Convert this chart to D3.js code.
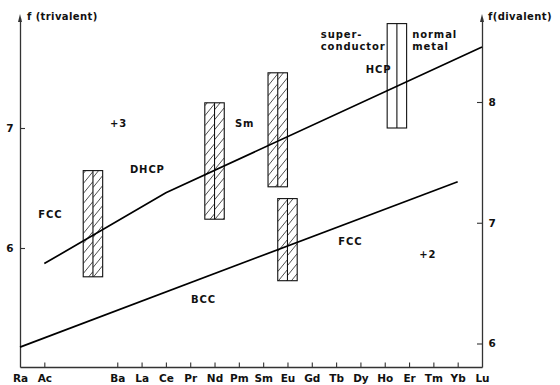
<!DOCTYPE html>
<html>
<head>
<meta charset="utf-8">
<script src="https://cdn.jsdelivr.net/npm/d3@7"></script>
<style>
  html, body { margin: 0; padding: 0; background: #fff; }
  svg text { font-family: "DejaVu Sans", sans-serif; font-size: 10px; font-weight: bold; fill: #111; }
  .lbl { letter-spacing: 0.9px; }
  .ttl { letter-spacing: 0.4px; }
</style>
</head>
<body>
<svg id="chart" width="560" height="385"></svg>
<script>
// Element slots along the horizontal axis (two unnamed slots between Ac and Ba)
const elements = ["Ra", "Ac", "", "", "Ba", "La", "Ce", "Pr", "Nd", "Pm", "Sm",
                  "Eu", "Gd", "Tb", "Dy", "Ho", "Er", "Tm", "Yb", "Lu"];
const trivalentTicks = [6, 7];
const divalentTicks = [6, 7, 8];

// f for the trivalent series (left scale)
const trivalentElements = ["Ac", "Ce", "Lu"];
const trivalentF = [5.87, 6.46, 7.675];

// f for the divalent series (right scale)
const divalentElements = ["Ra", "Yb"];
const divalentF = [5.97, 7.34];

// Transition ranges: slot position, low / high f, which scale, hatched or open
const barSlots = [3, 8, 10.6, 11, 15.5];
const barLow = [5.76, 6.24, 6.51, 6.52, 7.0];
const barHigh = [6.645, 7.21, 7.46, 7.2, 7.87];
const barScale = ["tri", "tri", "tri", "di", "tri"];
const barHatched = [true, true, true, true, false];

// Region annotations
const noteText = ["+3", "Sm", "DHCP", "FCC", "super-", "conductor", "normal", "metal",
                  "HCP", "FCC", "+2", "BCC"];

const svg = d3.select("#chart");
const plotL = 20, plotR = 482, plotT = 18, plotB = 367;

const x = d3.scaleLinear().domain([0, elements.length - 1]).range([plotL, plotR]);
const idx = name => elements.indexOf(name);

// vertical scales, calibrated on their tick marks, then stretched over the frame
const yTri = d3.scaleLinear().domain([6, 7]).range([248, 128]);
yTri.domain([yTri.invert(plotB), yTri.invert(plotT)]).range([plotB, plotT]);
const yDi = d3.scaleLinear().domain([6, 8]).range([343.5, 102]);
yDi.domain([yDi.invert(plotB), yDi.invert(plotT)]).range([plotB, plotT]);

const axisColor = "#333";

// bottom axis with inward ticks
const named = elements.map((e, i) => i).filter(i => elements[i] !== "");
const xAxis = d3.axisBottom(x)
  .tickValues(named)
  .tickFormat(i => elements[i])
  .tickSizeInner(-4.5).tickSizeOuter(0).tickPadding(7.6);
const gx = svg.append("g").attr("transform", `translate(0,${plotB})`).call(xAxis);
gx.selectAll(".tick").filter(i => i === 0 || i === elements.length - 1).select("line").remove();

const yAxisL = d3.axisLeft(yTri).tickValues(trivalentTicks).tickFormat(d3.format("d"))
  .tickSizeInner(-5).tickSizeOuter(0).tickPadding(6.5);
const gl = svg.append("g").attr("transform", `translate(${plotL},0)`).call(yAxisL);

const yAxisR = d3.axisRight(yDi).tickValues(divalentTicks).tickFormat(d3.format("d"))
  .tickSizeInner(-5).tickSizeOuter(0).tickPadding(6.5);
const gr = svg.append("g").attr("transform", `translate(${plotR},0)`).call(yAxisR);

[gx, gl, gr].forEach(g => {
  g.attr("font-family", null).attr("font-size", null);
  g.select(".domain").attr("stroke", axisColor).attr("stroke-width", 1.3);
  g.selectAll(".tick line").attr("stroke", axisColor).attr("stroke-width", 1.1);
  g.selectAll(".tick text").attr("fill", "#111").style("font-size", "10.5px");
});

// small arrow heads on the vertical axes
[plotL, plotR].forEach(ax => {
  svg.append("path")
    .attr("d", `M${ax},${plotT - 4} L${ax - 2},${plotT + 4} L${ax + 2},${plotT + 4} Z`)
    .attr("fill", axisColor);
});

// axis titles
svg.append("text").attr("class", "ttl").attr("x", plotL + 7).attr("y", 20).text("f (trivalent)");
svg.append("text").attr("class", "ttl").attr("x", plotR + 6).attr("y", 20).text("f(divalent)");

// transition ranges
const defs = svg.append("defs");
barSlots.forEach((s, b) => {
  const ys = barScale[b] === "tri" ? yTri : yDi;
  const half = x(s + 0.4) - x(s);
  const cx = x(s);
  const y0 = ys(barHigh[b]), y1 = ys(barLow[b]);
  const g = svg.append("g");
  if (barHatched[b]) {
    [cx - half, cx].forEach((hx, h) => {
      const id = `clip-${b}-${h}`;
      defs.append("clipPath").attr("id", id)
        .append("rect").attr("x", hx).attr("y", y0).attr("width", half).attr("height", y1 - y0);
      const hg = g.append("g").attr("clip-path", `url(#${id})`);
      const rise = 12, step = 10;
      d3.range(y0 + 3 + h * 4, y1 + rise + step, step).forEach(yy => {
        hg.append("line")
          .attr("x1", hx).attr("y1", yy)
          .attr("x2", hx + half).attr("y2", yy - rise)
          .attr("stroke", "#222").attr("stroke-width", 0.8);
      });
    });
  }
  g.append("rect").attr("x", cx - half).attr("y", y0)
    .attr("width", 2 * half).attr("height", y1 - y0)
    .attr("fill", "none").attr("stroke", "#111").attr("stroke-width", 1.1);
  g.append("line").attr("x1", cx).attr("x2", cx).attr("y1", y0).attr("y2", y1)
    .attr("stroke", "#111").attr("stroke-width", 1.1);
});

// the two f lines
const line = d3.line();
svg.append("path")
  .attr("d", line(trivalentElements.map((e, i) => [x(idx(e)), yTri(trivalentF[i])])))
  .attr("fill", "none").attr("stroke", "#000").attr("stroke-width", 1.7);
svg.append("path")
  .attr("d", line(divalentElements.map((e, i) => [x(idx(e)), yDi(divalentF[i])])))
  .attr("fill", "none").attr("stroke", "#000").attr("stroke-width", 1.7);

// annotations placed in slot / trivalent-f coordinates
const notePos = [[3.7, 7.008], [8.84, 7.011], [4.52, 6.628], [0.75, 6.248],
                 [12.37, 7.748], [12.37, 7.65], [16.13, 7.748], [16.13, 7.65],
                 [14.22, 7.456], [13.09, 6.025], [16.42, 5.914], [7.03, 5.539]];
noteText.forEach((t, i) => {
  svg.append("text").attr("class", "lbl")
    .attr("x", x(notePos[i][0])).attr("y", yTri(notePos[i][1]))
    .text(t);
});
</script>
</body>
</html>
